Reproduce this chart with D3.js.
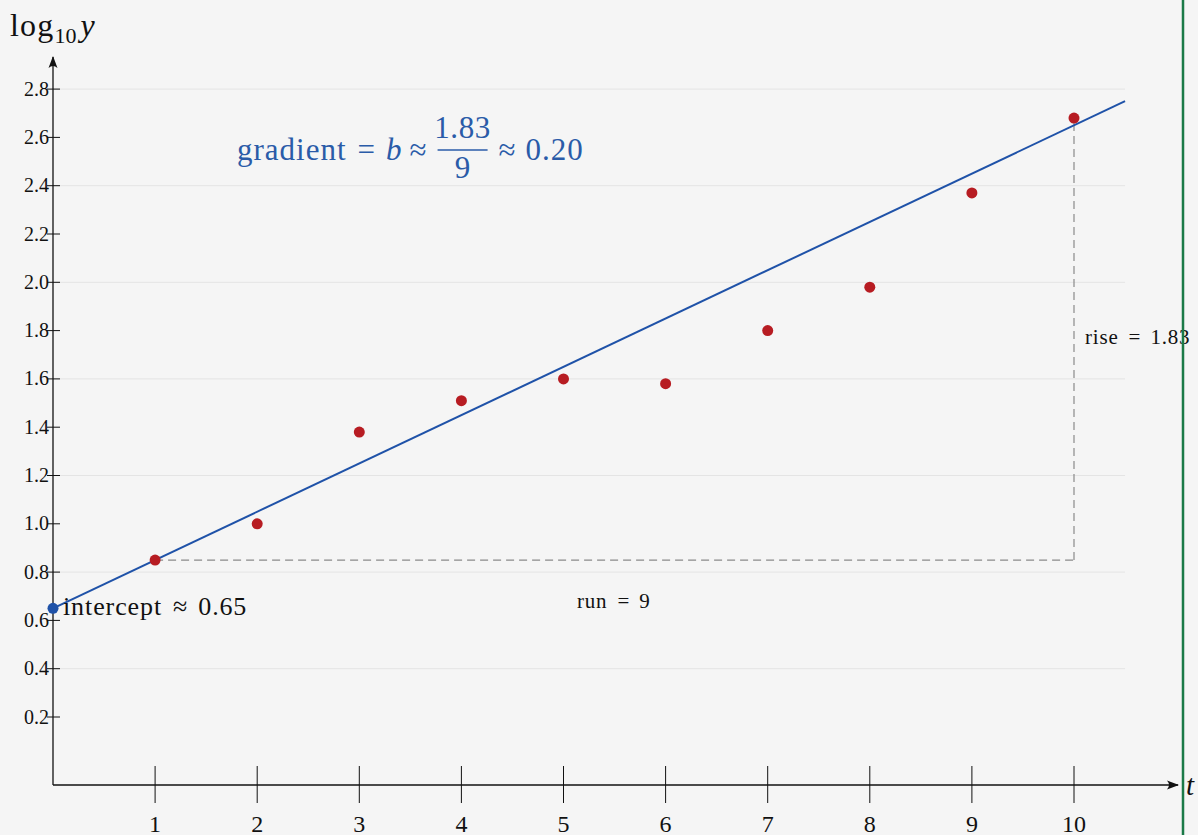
<!DOCTYPE html>
<html>
<head>
<meta charset="utf-8">
<script src="https://cdn.jsdelivr.net/npm/d3@7"></script>
<style>
  html, body { margin: 0; padding: 0; background: #f5f5f5; }
  svg { display: block; }
  text { font-family: "Liberation Serif", "DejaVu Serif", serif; fill: #111; }
</style>
</head>
<body>
<svg id="chart" width="1198" height="835"></svg>
<script>
// Observations: t against log10 of y
const tValues = [1, 2, 3, 4, 5, 6, 7, 8, 9, 10];
const logY = [0.85, 1.00, 1.38, 1.51, 1.60, 1.58, 1.80, 1.98, 2.37, 2.68];

// Fitted straight line: log10 y = intercept + gradient * t
const intercept = 0.65;
const gradient = 0.20;
const fitRange = [0, 10.5];

// Rise / run triangle between t = 1 and t = 10
const runFrom = 1, runTo = 10;
const riseValue = 1.83, runValue = 9;

// Axis ticks and grid
const xTicks = [1, 2, 3, 4, 5, 6, 7, 8, 9, 10];
const yTicks = [0.2, 0.4, 0.6, 0.8, 1.0, 1.2, 1.4, 1.6, 1.8, 2.0, 2.2, 2.4, 2.6, 2.8];
const gridTicks = [0.4, 0.8, 1.2, 1.6, 2.0, 2.4, 2.8];

const svg = d3.select("#chart");
const W = 1198, H = 835;

const x = d3.scaleLinear().domain([0, 10]).range([53, 1074]);
const y = d3.scaleLinear().domain([0, 2.8]).range([765.3, 89.1]);

const axisY = 785;     // pixel row of the horizontal axis
const axisX = x(0);    // pixel column of the vertical axis

svg.append("rect").attr("width", W).attr("height", H).attr("fill", "#f5f5f5");

// Arrowhead marker
const defs = svg.append("defs");
defs.append("marker")
  .attr("id", "arrow")
  .attr("viewBox", "0 0 12 10")
  .attr("refX", 11).attr("refY", 5)
  .attr("markerWidth", 12).attr("markerHeight", 10)
  .attr("markerUnits", "userSpaceOnUse")
  .attr("orient", "auto")
  .append("path")
  .attr("d", "M0,0.5 Q4,5 0,9.5 L12,5 Z")
  .attr("fill", "#111");

// Horizontal grid lines
svg.append("g").selectAll("line").data(gridTicks).join("line")
  .attr("x1", axisX).attr("x2", x(fitRange[1]))
  .attr("y1", d => y(d)).attr("y2", d => y(d))
  .attr("stroke", "#e4e4e4").attr("stroke-width", 1);

// Axis lines
svg.append("line")
  .attr("x1", axisX).attr("x2", 1178)
  .attr("y1", axisY).attr("y2", axisY)
  .attr("stroke", "#111").attr("stroke-width", 1.3)
  .attr("marker-end", "url(#arrow)");
svg.append("line")
  .attr("x1", axisX).attr("x2", axisX)
  .attr("y1", axisY).attr("y2", 57)
  .attr("stroke", "#111").attr("stroke-width", 1.3)
  .attr("marker-end", "url(#arrow)");

// x ticks and labels
const xt = svg.append("g");
xt.selectAll("line").data(xTicks).join("line")
  .attr("x1", d => x(d)).attr("x2", d => x(d))
  .attr("y1", axisY - 19).attr("y2", axisY + 18)
  .attr("stroke", "#111").attr("stroke-width", 1);
xt.selectAll("text").data(xTicks).join("text")
  .attr("x", d => x(d)).attr("y", 832)
  .attr("text-anchor", "middle")
  .attr("font-size", 24)
  .text(d => d);

// y ticks and labels
const yt = svg.append("g");
yt.selectAll("line").data(yTicks).join("line")
  .attr("x1", axisX - 6).attr("x2", axisX + 7)
  .attr("y1", d => y(d)).attr("y2", d => y(d))
  .attr("stroke", "#111").attr("stroke-width", 1);
yt.selectAll("text").data(yTicks).join("text")
  .attr("x", 49).attr("y", d => y(d) + 6.5)
  .attr("text-anchor", "end")
  .attr("font-size", 20)
  .text(d => d.toFixed(1));

// Lays out a row of math-style pieces left to right. Each piece has a gap
// before it; a piece may be a stacked fraction {num, den}.
function flowLine(parent, x0, baseline, size, color, pieces) {
  const g = parent.append("g");
  let cx = x0;
  pieces.forEach(p => {
    cx += p.gap || 0;
    if (p.num !== undefined) {
      const w = p.width;
      const mid = cx + w / 2;
      g.append("text").attr("x", mid).attr("y", baseline - 22)
        .attr("text-anchor", "middle").attr("font-size", size)
        .attr("letter-spacing", 0.6).style("fill", color).text(p.num);
      g.append("text").attr("x", mid).attr("y", baseline + 18)
        .attr("text-anchor", "middle").attr("font-size", size)
        .style("fill", color).text(p.den);
      g.append("line").attr("x1", cx).attr("x2", cx + w)
        .attr("y1", baseline - 10).attr("y2", baseline - 10)
        .attr("stroke", color).attr("stroke-width", 1.3);
      cx += w;
      return;
    }
    const t = g.append("text")
      .attr("x", cx).attr("y", baseline + (p.dy || 0))
      .attr("font-size", p.size || size)
      .style("fill", color)
      .text(p.s);
    if (p.italic) t.attr("font-style", "italic");
    if (p.ls) t.attr("letter-spacing", p.ls);
    cx += t.node().getComputedTextLength() + (p.ls ? p.ls * 0 : 0);
  });
  return g;
}

// Axis titles
flowLine(svg, 10, 36, 32, "#111", [
  { s: "log", ls: 1.2 },
  { s: "10", dy: 7, size: 22 },
  { s: "y", italic: true, gap: 4 }
]);
svg.append("text").attr("x", 1186).attr("y", 795)
  .attr("font-size", 29).attr("font-style", "italic").text("t");

// Rise / run dashed guides
const dash = "8,5";
svg.append("line")
  .attr("x1", x(runFrom)).attr("x2", x(runTo))
  .attr("y1", y(logY[runFrom - 1])).attr("y2", y(logY[runFrom - 1]))
  .attr("stroke", "#8a8a8a").attr("stroke-width", 1.2).attr("stroke-dasharray", dash);
svg.append("line")
  .attr("x1", x(runTo)).attr("x2", x(runTo))
  .attr("y1", y(logY[runFrom - 1])).attr("y2", y(logY[runTo - 1]))
  .attr("stroke", "#8a8a8a").attr("stroke-width", 1.2).attr("stroke-dasharray", dash);

// Fitted line
svg.append("line")
  .attr("x1", x(fitRange[0])).attr("y1", y(intercept + gradient * fitRange[0]))
  .attr("x2", x(fitRange[1])).attr("y2", y(intercept + gradient * fitRange[1]))
  .attr("stroke", "#1f52a8").attr("stroke-width", 2);

// Data points
svg.append("g").selectAll("circle").data(tValues).join("circle")
  .attr("cx", d => x(d)).attr("cy", (d, i) => y(logY[i]))
  .attr("r", 5.5).attr("fill", "#b71c22");

// Intercept point
svg.append("circle").attr("cx", x(0)).attr("cy", y(intercept))
  .attr("r", 5.5).attr("fill", "#1f52a8");

// Annotations
flowLine(svg, 63, 615, 26, "#111", [
  { s: "intercept", ls: 0.9 },
  { s: "≈", gap: 11 },
  { s: intercept.toFixed(2), gap: 11, ls: 0.8 }
]);

flowLine(svg, 1085, 344, 21, "#111", [
  { s: "rise", ls: 0.8 },
  { s: "=", gap: 10 },
  { s: riseValue.toFixed(2), gap: 10, ls: 0.8 }
]);

flowLine(svg, 577, 608, 21, "#111", [
  { s: "run", ls: 0.8 },
  { s: "=", gap: 10 },
  { s: String(runValue), gap: 10 }
]);

// Gradient formula with a stacked fraction
const blue = "#2a5ba8";
flowLine(svg, 237, 160, 31, blue, [
  { s: "gradient", ls: 1 },
  { s: "=", gap: 11 },
  { s: "b", gap: 11, italic: true },
  { s: "≈", gap: 8 },
  { num: riseValue.toFixed(2), den: String(runValue), width: 50, gap: 11 },
  { s: "≈", gap: 11 },
  { s: gradient.toFixed(2), gap: 10, ls: 1 }
]);

// Right-hand border rule
svg.append("line").attr("x1", 1183).attr("x2", 1183).attr("y1", 0).attr("y2", H)
  .attr("stroke", "#1b7a48").attr("stroke-width", 2.5);
</script>
</body>
</html>
